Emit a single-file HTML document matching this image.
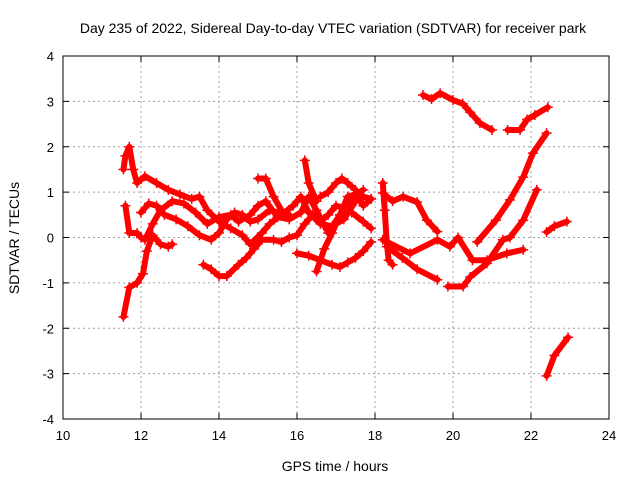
<!DOCTYPE html>
<html><head><meta charset="utf-8"><style>
body{margin:0;background:#fff;}
svg{display:block;font-family:"Liberation Sans",sans-serif;}
</style></head><body>
<svg id="chart" width="640" height="480">
<text x="333" y="33" text-anchor="middle" font-size="14">Day 235 of 2022, Sidereal Day-to-day VTEC variation (SDTVAR) for receiver park</text>
<text x="335" y="471" text-anchor="middle" font-size="14">GPS time / hours</text>
<text transform="translate(19,238) rotate(-90)" text-anchor="middle" font-size="14">SDTVAR / TECUs</text>
<g id="grid"></g>
<g id="axes"></g>
<g id="series"></g>
</svg>
<script>
const xTicks=[10,12,14,16,18,20,22,24];
const yTicks=[-4,-3,-2,-1,0,1,2,3,4];
const t1=[[11.55,1.5],[11.6,1.8],[11.7,2.0],[11.8,1.5],[11.9,1.2],[12.1,1.35],[12.4,1.2],[12.7,1.05],[13.0,0.95],[13.3,0.85],[13.5,0.9],[13.7,0.6],[14.0,0.35],[14.3,0.2],[14.6,0.05],[14.8,-0.15],[15.1,0.1],[15.3,0.3],[15.6,0.5],[15.9,0.7],[16.1,0.9],[16.3,0.55],[16.6,0.3],[16.9,0.25],[17.2,0.4],[17.5,0.8],[17.7,0.9],[17.9,0.85]];
const t2=[[11.6,0.7],[11.7,0.1],[11.9,0.1],[12.0,0.0],[12.1,-0.05],[12.3,0.3],[12.5,0.6],[12.8,0.8],[13.1,0.75],[13.4,0.55],[13.7,0.3],[14.0,0.45],[14.3,0.5],[14.5,0.35],[14.8,0.5],[15.0,0.7],[15.2,0.8],[15.5,0.45],[15.8,0.4],[16.1,0.55],[16.3,0.9],[16.5,0.6],[16.8,0.1],[17.1,0.5],[17.3,0.9],[17.5,0.95],[17.7,0.7],[17.9,0.85]];
const t3=[[11.55,-1.75],[11.7,-1.1],[11.9,-1.0],[12.05,-0.8],[12.15,-0.3],[12.3,0.05],[12.5,-0.15],[12.7,-0.2],[12.8,-0.15]];
const t4=[[12.0,0.55],[12.2,0.75],[12.4,0.7],[12.6,0.5],[12.9,0.4],[13.2,0.25],[13.5,0.05],[13.8,-0.05],[14.0,0.1],[14.2,0.4],[14.4,0.55],[14.6,0.5],[14.8,0.35],[15.0,0.4],[15.3,0.6],[15.5,0.55],[15.8,0.5]];
const t5=[[13.6,-0.6],[13.8,-0.7],[14.0,-0.85],[14.2,-0.85],[14.5,-0.6],[14.7,-0.45],[14.9,-0.25],[15.1,-0.05],[15.4,-0.05],[15.6,-0.1],[15.8,0.0],[16.0,0.05],[16.2,0.3],[16.4,0.5],[16.6,0.35],[16.8,0.5],[17.0,0.7],[17.2,0.65],[17.4,0.55],[17.7,0.35],[17.9,0.2]];
const t6=[[16.0,-0.35],[16.3,-0.4],[16.6,-0.5],[16.9,-0.6],[17.1,-0.65],[17.3,-0.55],[17.5,-0.45],[17.7,-0.3],[17.9,-0.1]];
const t7=[[16.5,-0.75],[16.7,-0.25],[16.9,0.1],[17.1,0.5],[17.3,0.75],[17.5,0.95],[17.7,1.05]];
const t8=[[16.6,0.9],[16.8,1.0],[17.0,1.2],[17.15,1.3],[17.3,1.2],[17.5,1.05]];
const t9=[[15.0,1.3],[15.2,1.3],[15.4,0.9],[15.6,0.6]];
const t10=[[16.2,1.7],[16.3,1.2],[16.5,0.8]];
const t11=[[19.23,3.14],[19.45,3.05],[19.67,3.18],[20.0,3.03],[20.25,2.95],[20.44,2.76],[20.69,2.52],[21.0,2.37]];
const t12=[[21.4,2.37],[21.72,2.37],[21.9,2.6],[22.1,2.7],[22.43,2.87]];
const t13=[[20.62,-0.1],[21.1,0.38],[21.46,0.83],[21.8,1.33],[22.05,1.86],[22.4,2.3]];
const t14=[[19.87,-1.08],[20.26,-1.08],[20.44,-0.87],[20.87,-0.57],[21.28,-0.05],[21.46,0.0],[21.8,0.38],[22.15,1.05]];
const t15=[[18.2,-0.05],[18.9,-0.35],[19.6,-0.05],[19.92,-0.2],[20.13,0.0],[20.5,-0.5],[20.87,-0.5],[21.38,-0.35],[21.8,-0.27]];
const t16=[[18.3,-0.2],[18.7,-0.45],[19.08,-0.7],[19.6,-0.93]];
const t17=[[18.2,0.98],[18.45,0.8],[18.72,0.9],[19.08,0.78],[19.33,0.38],[19.6,0.13]];
const t18=[[18.2,1.2],[18.25,0.6],[18.3,-0.1],[18.35,-0.5],[18.45,-0.6]];
const t19=[[22.4,0.12],[22.6,0.25],[22.92,0.35]];
const t20=[[22.4,-3.05],[22.6,-2.6],[22.95,-2.2]];
const tracks=[t1,t2,t3,t4,t5,t6,t7,t8,t9,t10,t11,t12,t13,t14,t15,t16,t17,t18,t19,t20];
const X0=63,X1=609,Y0=419,Y1=56;
const xs=h=>X0+(h-10)/14*(X1-X0);
const ys=v=>Y0-(v+4)/8*(Y0-Y1);
const NS="http://www.w3.org/2000/svg";
function mk(tag,attrs,parent){const e=document.createElementNS(NS,tag);for(const k in attrs)e.setAttribute(k,attrs[k]);parent.appendChild(e);return e;}
const grid=document.getElementById('grid'),axes=document.getElementById('axes'),ser=document.getElementById('series');
xTicks.forEach(t=>{const x=xs(t);
 if(t>10&&t<24){const g=mk('line',{x1:x,x2:x,y1:Y1,y2:Y0,stroke:'#a0a0a0','stroke-dasharray':'2,3'},grid);
 
 }
 mk('line',{x1:x,x2:x,y1:Y0,y2:Y0-6,stroke:'#000'},axes);
 mk('line',{x1:x,x2:x,y1:Y1,y2:Y1+6,stroke:'#000'},axes);
 const l=mk('text',{x:x,y:Y0+21,'text-anchor':'middle','font-size':'13'},axes);l.textContent=t;
 
 
});
yTicks.forEach(t=>{const y=ys(t);
 if(t>-4&&t<4){const g=mk('line',{x1:X0,x2:X1,y1:y,y2:y,stroke:'#a0a0a0','stroke-dasharray':'2,3'},grid);
 
 }
 mk('line',{x1:X0,x2:X0+6,y1:y,y2:y,stroke:'#000'},axes);
 mk('line',{x1:X1,x2:X1-6,y1:y,y2:y,stroke:'#000'},axes);
 const l=mk('text',{x:X0-9,y:y+5,'text-anchor':'end','font-size':'13'},axes);l.textContent=t;
 
 
});
mk('rect',{x:X0,y:Y1,width:X1-X0,height:Y0-Y1,fill:'none',stroke:'#000'},axes);
tracks.forEach(tr=>{
 const pl=mk('polyline',{points:tr.map(p=>xs(p[0])+','+ys(p[1])).join(' '),fill:'none',stroke:'#f00','stroke-width':'6','stroke-linejoin':'round','stroke-linecap':'round'},ser);
 
 
 tr.forEach(p=>{const x=xs(p[0]),y=ys(p[1]);
  const m=mk('path',{d:`M${x-5},${y}h10M${x},${y-5}v10`,stroke:'#f00','stroke-width':'1.5'},ser);
  
  
 });
});
</script>
</body></html>
